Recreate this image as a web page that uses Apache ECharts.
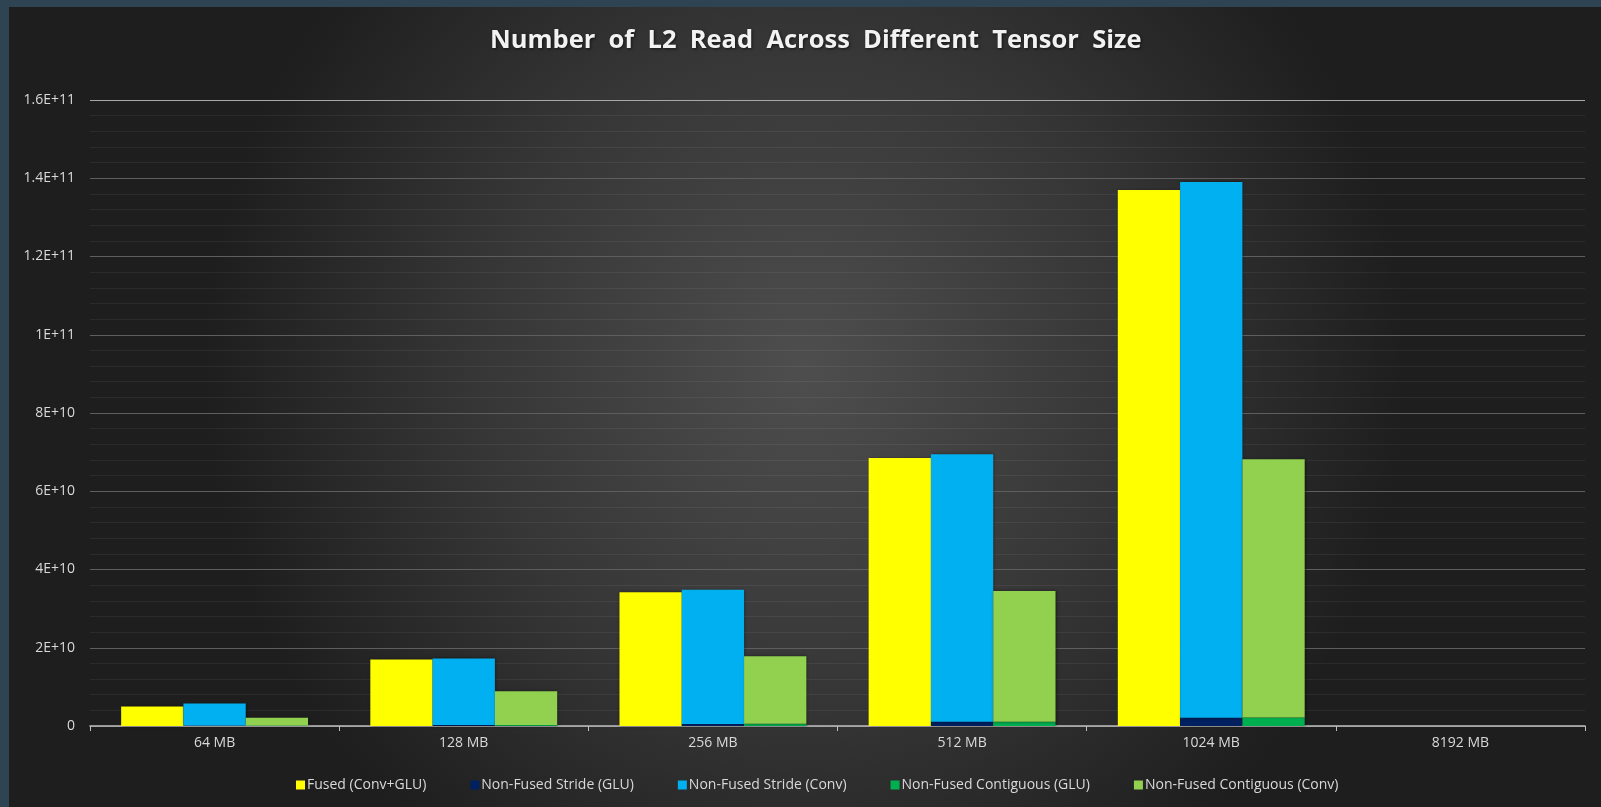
<!DOCTYPE html>
<html>
<head>
<meta charset="utf-8">
<script src="https://cdn.jsdelivr.net/npm/echarts@6/dist/echarts.min.js"></script>
<style>
  html, body { margin: 0; padding: 0; width: 1601px; height: 807px; overflow: hidden; background: #2e4452; }
  #chart { position: absolute; left: 9px; top: 7px; width: 1592px; height: 800px; }
</style>
</head>
<body>
<div id="chart"></div>
<script>
const categories = ['64 MB', '128 MB', '256 MB', '512 MB', '1024 MB', '8192 MB'];
const seriesNames = ['Fused (Conv+GLU)', 'Non-Fused Stride (GLU)', 'Non-Fused Stride (Conv)', 'Non-Fused Contiguous (GLU)', 'Non-Fused Contiguous (Conv)'];
const fusedConvGlu = [5.0e9, 17.0e9, 34.2e9, 68.5e9, 137.0e9, null];
const strideGlu = [0.13e9, 0.27e9, 0.53e9, 1.07e9, 2.14e9, null];
const strideConv = [5.6e9, 17.0e9, 34.3e9, 68.4e9, 136.9e9, null];
const contigGlu = [0.14e9, 0.28e9, 0.55e9, 1.1e9, 2.2e9, null];
const contigConv = [2.0e9, 8.6e9, 17.3e9, 33.4e9, 66.0e9, null];
const colors = ['#ffff00', '#002060', '#00b0f0', '#00b050', '#92d050'];

function excelSci(v) {
  if (v === 0) return '0';
  const e = Math.floor(Math.log10(v) + 1e-9);
  let m = Math.round(v / Math.pow(10, e) * 100) / 100;
  return m + 'E+' + e;
}

const chart = echarts.init(document.getElementById('chart'), null, { renderer: 'canvas' });
const font = "'Open Sans', 'Noto Sans', sans-serif";
const barShadow = { shadowBlur: 3, shadowColor: 'rgba(0,0,0,0.45)', shadowOffsetX: 1, shadowOffsetY: 0 };

function mk(name, data, stack, color) {
  return {
    name: name, type: 'bar', stack: stack, data: data,
    barGap: '0%', barCategoryGap: '25%',
    itemStyle: Object.assign({ color: color }, barShadow),
    emphasis: { disabled: true }
  };
}

chart.setOption({
  backgroundColor: new echarts.graphic.RadialGradient(0.5, 0.45, 0.75, [
    { offset: 0, color: '#4e4e4e' },
    { offset: 0.55, color: '#363636' },
    { offset: 1, color: '#1e1e1e' }
  ]),
  animation: false,
  title: {
    text: 'Number  of  L2  Read  Across  Different  Tensor  Size',
    left: 476,
    top: 16,
    textStyle: {
      color: '#f2f2f2', fontFamily: font, fontWeight: 'bold', fontSize: 25.5,
      textShadowColor: 'rgba(0,0,0,0.6)', textShadowBlur: 3, textShadowOffsetX: 1, textShadowOffsetY: 1
    }
  },
  legend: {
    data: seriesNames,
    top: 766,
    left: 282,
    icon: 'rect',
    itemWidth: 9,
    itemHeight: 9,
    itemGap: 44,
    textStyle: { color: '#d9d9d9', fontFamily: font, fontSize: 14, padding: [0, 0, 0, -3] }
  },
  grid: { left: 81, right: 16, top: 93, bottom: 81, containLabel: false },
  xAxis: {
    type: 'category',
    data: categories,
    axisLine: { lineStyle: { color: '#bfbfbf', width: 1.5 } },
    axisTick: { show: true, length: 5, lineStyle: { color: '#bfbfbf' } },
    axisLabel: { color: '#d9d9d9', fontFamily: font, fontSize: 14, margin: 10 },
    splitLine: { show: false }
  },
  yAxis: {
    type: 'value',
    min: 0,
    max: 1.6e11,
    interval: 2e10,
    axisLine: { show: false },
    axisTick: { show: false },
    axisLabel: { color: '#d9d9d9', fontFamily: font, fontSize: 14, margin: 15, formatter: excelSci },
    splitLine: { show: true, lineStyle: { color: ['#5e5e5e', '#5e5e5e', '#5e5e5e', '#5e5e5e', '#5e5e5e', '#5e5e5e', '#5e5e5e', '#5e5e5e', '#a8a8a8'], width: 1.2 } },
    minorTick: { show: false, splitNumber: 5 },
    minorSplitLine: { show: true, lineStyle: { color: 'rgba(255,255,255,0.06)', width: 1 } }
  },
  series: [
    mk(seriesNames[0], fusedConvGlu, 'fused', colors[0]),
    mk(seriesNames[1], strideGlu, 'stride', colors[1]),
    mk(seriesNames[2], strideConv, 'stride', colors[2]),
    mk(seriesNames[3], contigGlu, 'contig', colors[3]),
    mk(seriesNames[4], contigConv, 'contig', colors[4])
  ]
});
</script>
</body>
</html>
